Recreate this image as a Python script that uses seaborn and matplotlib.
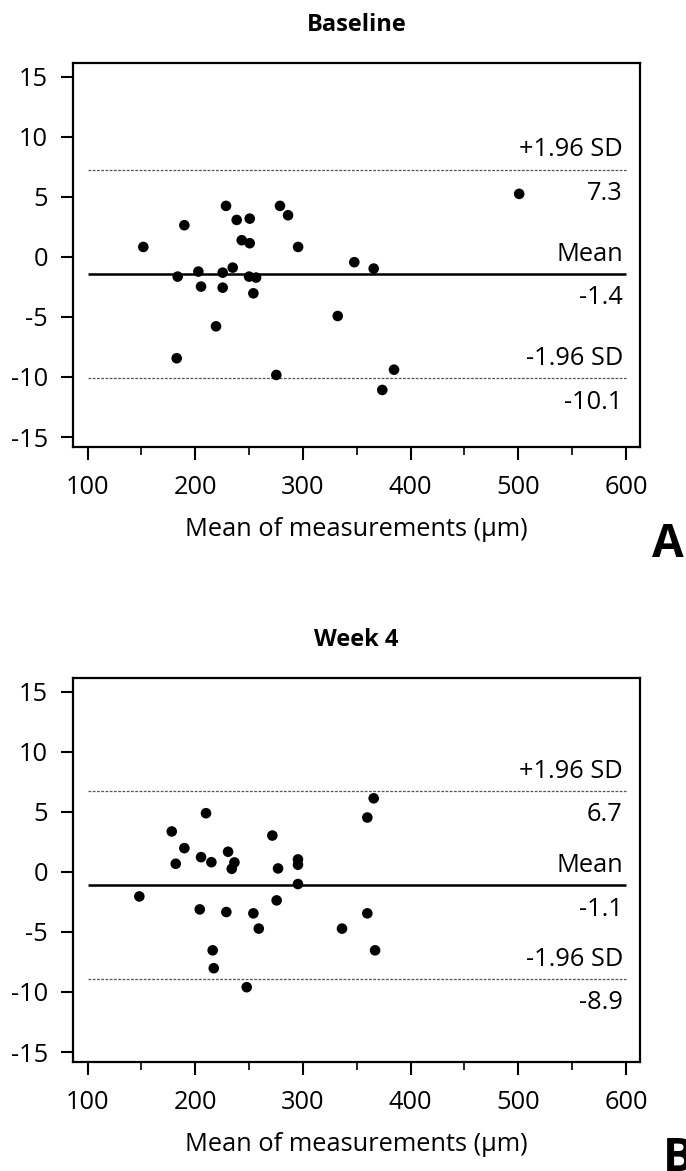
import matplotlib
matplotlib.use("Agg")
import matplotlib.pyplot as plt
import seaborn as sns
import pandas as pd
from matplotlib.ticker import MultipleLocator, FuncFormatter

# ---------------- data ----------------
baseline_mean_x = [151.8, 189.9, 183.7, 182.8, 202.9, 205.4, 228.6, 225.5, 225.5, 219.3,
                   238.5, 234.8, 243.2, 250.6, 250.6, 250.0, 256.5, 254.0, 275.3, 278.7,
                   286.2, 295.5, 332.3, 347.7, 365.7, 373.7, 384.6, 500.8]
baseline_diff_y = [0.83, 2.64, -1.64, -8.44, -1.22, -2.47, 4.25, -1.31, -2.56, -5.78,
                   3.08, -0.89, 1.39, 3.19, 1.14, -1.64, -1.72, -3.03, -9.83, 4.25,
                   3.47, 0.83, -4.92, -0.44, -0.97, -11.08, -9.39, 5.25]
baseline_limits = [7.27, -1.40, -10.12]          # +1.96 SD, mean, -1.96 SD
baseline_limit_values = ["7.3", "-1.4", "-10.1"]

week4_mean_x = [148.1, 178.2, 181.9, 189.9, 204.2, 205.4, 210.0, 215.0, 216.2, 217.2,
                228.9, 230.5, 236.4, 233.9, 247.8, 254.0, 259.0, 271.6, 276.9, 275.6,
                295.4, 295.4, 295.4, 336.3, 359.8, 365.7, 359.8, 367.0]
week4_diff_y = [-2.04, 3.37, 0.68, 1.98, -3.12, 1.23, 4.89, 0.81, -6.53, -8.02,
                -3.34, 1.68, 0.79, 0.26, -9.60, -3.45, -4.72, 3.03, 0.29, -2.37,
                1.04, 0.60, -1.01, -4.72, 4.53, 6.13, -3.45, -6.53]
week4_limits = [6.75, -1.10, -8.90]
week4_limit_values = ["6.7", "-1.1", "-8.9"]

limit_names = ["+1.96 SD", "Mean", "-1.96 SD"]
panel_titles = ["Baseline", "Week 4"]
panel_letters = ["A", "B"]
x_ticks = [100, 200, 300, 400, 500, 600]
y_ticks = [-15, -10, -5, 0, 5, 10, 15]
x_label = "Mean of measurements (\u00b5m)"

# ---------------- style ----------------
sns.set_style("ticks")
plt.rcParams["font.family"] = ["Open Sans", "DejaVu Sans"]
plt.rcParams["text.color"] = "black"
plt.rcParams["axes.labelcolor"] = "black"
plt.rcParams["xtick.color"] = "black"
plt.rcParams["ytick.color"] = "black"

W, H = 686, 1171
fig = plt.figure(figsize=(W / 100, H / 100), dpi=100)
ax1 = fig.add_axes([73 / W, 1 - 447 / H, 567 / W, 384 / H])
ax2 = fig.add_axes([73 / W, 1 - 1062 / H, 567 / W, 384 / H])

panels = [
    (ax1, baseline_mean_x, baseline_diff_y, baseline_limits, baseline_limit_values),
    (ax2, week4_mean_x, week4_diff_y, week4_limits, week4_limit_values),
]

FS = 18.3
for i, (ax, xs, ys, lims, lvals) in enumerate(panels):
    df = pd.DataFrame({"mean": xs, "diff": ys})
    sns.scatterplot(data=df, x="mean", y="diff", ax=ax, color="black",
                    s=58, linewidth=0, edgecolor="none", zorder=3)
    # limit lines
    ax.hlines(lims[0], 100, 600, colors="#555555", linewidth=0.9,
              linestyles=(0, (2.2, 1.2)), zorder=2)
    ax.hlines(lims[1], 100, 600, colors="black", linewidth=1.8, zorder=2)
    ax.hlines(lims[2], 100, 600, colors="#555555", linewidth=0.9,
              linestyles=(0, (2.2, 1.2)), zorder=2)
    for name, val, lv in zip(limit_names, lims, lvals):
        ax.annotate(name, xy=(597, val), xytext=(0, 9.5), textcoords="offset points",
                    ha="right", va="baseline", fontsize=FS, color="black")
        ax.annotate(lv, xy=(597, val), xytext=(0, -22), textcoords="offset points",
                    ha="right", va="baseline", fontsize=FS, color="black")

    ax.set_xlim(86.5, 613)
    ax.set_ylim(-15.83, 16.15)
    ax.set_xticks(x_ticks)
    ax.set_yticks(y_ticks)
    ax.xaxis.set_minor_locator(MultipleLocator(50))
    ax.yaxis.set_major_formatter(FuncFormatter(lambda v, p: f"{int(round(v))}"))
    ax.xaxis.set_major_formatter(FuncFormatter(lambda v, p: f"{int(round(v))}"))
    ax.tick_params(axis="both", which="major", direction="out", length=9,
                   width=1.5, labelsize=FS, color="black", labelcolor="black")
    ax.tick_params(axis="y", which="major", pad=9)
    ax.tick_params(axis="x", which="major", pad=11.5)
    ax.tick_params(axis="x", which="minor", direction="out", length=5.5, width=1.2,
                   color="black")
    ax.tick_params(axis="y", which="minor", length=0)
    for sp in ax.spines.values():
        sp.set_visible(True)
        sp.set_linewidth(1.6)
        sp.set_color("black")
    ax.set_xlabel(x_label, fontsize=FS, labelpad=12, color="black")
    ax.set_ylabel("")
    ax.set_title(panel_titles[i], fontsize=17, fontweight="bold", pad=23, color="black")
    ax.grid(False)

fig.text(652 / W, 1 - 557 / H, panel_letters[0], fontsize=33, fontweight="bold",
         ha="left", va="baseline", color="black")
fig.text(663 / W, 0.0, panel_letters[1], fontsize=33, fontweight="bold",
         ha="left", va="baseline", color="black")

fig.savefig("out.png", dpi=100, facecolor="white")
